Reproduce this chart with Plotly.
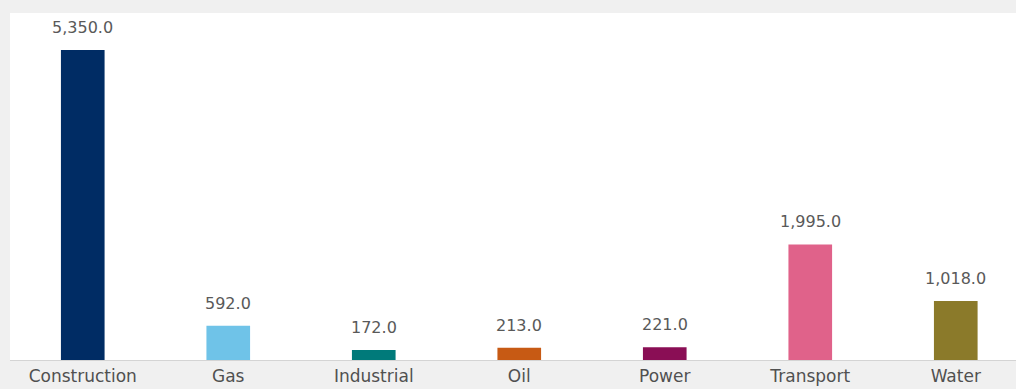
import plotly.graph_objects as go

categories = ["Construction", "Gas", "Industrial", "Oil", "Power", "Transport", "Water"]
values = [5350.0, 592.0, 172.0, 213.0, 221.0, 1995.0, 1018.0]
colors = ["#002c64", "#6fc3e8", "#007a7a", "#c75a14", "#8a0e55", "#e0628a", "#8b7a2a"]

fig = go.Figure()
fig.add_trace(go.Bar(
    x=categories, y=values, marker=dict(color=colors, line=dict(width=0)),
    width=0.30, hoverinfo="skip",
))
for c, v in zip(categories, values):
    fig.add_annotation(x=c, y=v, text=f"{v:,.1f}", showarrow=False,
                       yanchor="bottom", yshift=11,
                       font=dict(family="DejaVu Sans", size=16, color="#595959"))

fig.update_layout(
    width=1016, height=389,
    margin=dict(l=10, r=0, t=13, b=29, autoexpand=False),
    paper_bgcolor="#f0f0f0", plot_bgcolor="#ffffff",
    showlegend=False,
    xaxis=dict(range=[-0.5, 6.414], showgrid=False, zeroline=False,
               showline=True, linecolor="#d4d4d4", linewidth=1,
               ticks="", ticklabelstandoff=1, automargin=False,
               tickfont=dict(family="DejaVu Sans", size=17, color="#505050"),
               fixedrange=True),
    yaxis=dict(range=[0, 5989], showgrid=False, zeroline=False, showticklabels=False,
               showline=False, fixedrange=True, automargin=False),
)
fig.write_html("out.html", config={"displayModeBar": False})
